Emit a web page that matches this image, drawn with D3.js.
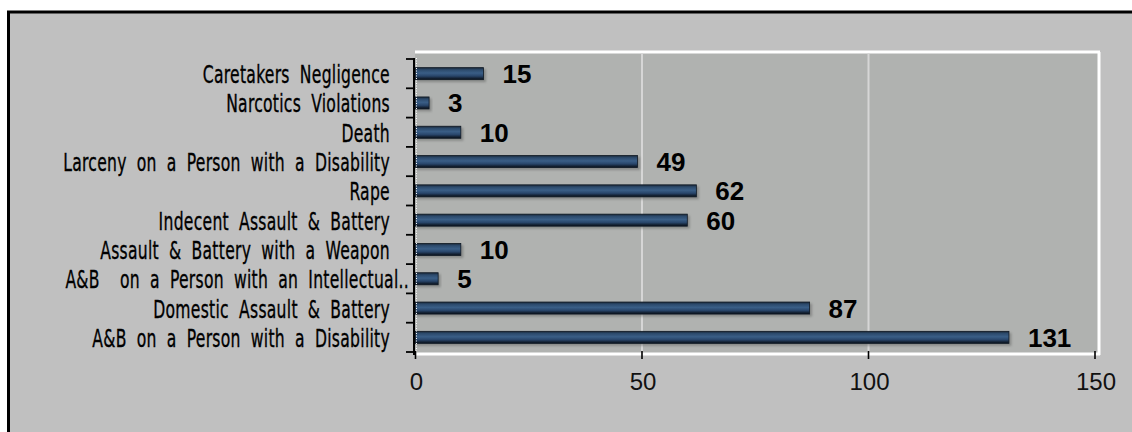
<!DOCTYPE html>
<html>
<head>
<meta charset="utf-8">
<script src="https://cdn.jsdelivr.net/npm/d3@7"></script>
<style>
  html, body { margin: 0; padding: 0; background: #ffffff; }
  svg { display: block; }
</style>
</head>
<body>
<svg id="chart" width="1132" height="432"></svg>
<script>
// ---- data ----
const categories = [
  "Caretakers Negligence",
  "Narcotics Violations",
  "Death",
  "Larceny on a Person with a Disability",
  "Rape",
  "Indecent Assault & Battery",
  "Assault & Battery with a Weapon",
  "A&B  on a Person with an Intellectual..",
  "Domestic Assault & Battery",
  "A&B on a Person with a Disability"
];
const values = [15, 3, 10, 49, 62, 60, 10, 5, 87, 131];
const xTicks = [0, 50, 100, 150];

// ---- layout ----
const W = 1132, H = 432;
const plot = { left: 415, right: 1099, top: 52, bottom: 355 };

const svg = d3.select("#chart");

// outer panel
svg.append("rect").attr("x", 9).attr("y", 12).attr("width", W).attr("height", H)
  .attr("fill", "#c0c0c0");
svg.append("line").attr("x1", 8.5).attr("x2", 8.5).attr("y1", 11).attr("y2", H)
  .attr("stroke", "#000").attr("stroke-width", 3);
svg.append("line").attr("x1", 7).attr("x2", W).attr("y1", 12).attr("y2", 12)
  .attr("stroke", "#000").attr("stroke-width", 3);

const x = d3.scaleLinear().domain([0, 150]).range([415.5, 1095]);
const y = d3.scaleBand().domain(categories).range([59, 352]).paddingInner(0.59).paddingOuter(0.295);
const yBounds = d3.scaleBand().domain(categories).range([59, 352]);

// plot area background
svg.append("rect")
  .attr("x", plot.left).attr("y", plot.top)
  .attr("width", plot.right - plot.left).attr("height", plot.bottom - plot.top)
  .attr("fill", "#b0b2b0");

// white frame (top, right, bottom)
const frame = svg.append("g").attr("fill", "none").attr("stroke", "#ffffff");
frame.append("line").attr("x1", plot.left).attr("x2", plot.right + 1).attr("y1", plot.top).attr("y2", plot.top).attr("stroke-width", 3);
frame.append("line").attr("x1", plot.right).attr("x2", plot.right).attr("y1", plot.top).attr("y2", plot.bottom).attr("stroke-width", 3);
frame.append("line").attr("x1", plot.left).attr("x2", plot.right + 1).attr("y1", plot.bottom - 1).attr("y2", plot.bottom - 1).attr("stroke-width", 3);
frame.append("line").attr("x1", plot.left).attr("x2", plot.right).attr("y1", plot.bottom - 2.5).attr("y2", plot.bottom - 2.5)
  .attr("stroke", "#d8d8d8").attr("stroke-width", 1).attr("stroke-dasharray", "1,2");
frame.append("line").attr("x1", plot.left).attr("x2", plot.right).attr("y1", plot.top + 1.5).attr("y2", plot.top + 1.5)
  .attr("stroke", "#d8d8d8").attr("stroke-width", 1).attr("stroke-dasharray", "1,2");

// gridlines
svg.append("g").selectAll("line").data(xTicks.filter(d => d > 0 && d < 150)).join("line")
  .attr("x1", d => x(d)).attr("x2", d => x(d))
  .attr("y1", plot.top + 1).attr("y2", plot.bottom - 2)
  .attr("stroke", "#d6d6d6").attr("stroke-width", 2);

// bar gradient
const defs = svg.append("defs");
const grad = defs.append("linearGradient").attr("id", "barGrad")
  .attr("x1", 0).attr("x2", 0).attr("y1", 0).attr("y2", 1);
[[0, "#1a2838"], [0.18, "#2c4a6c"], [0.45, "#3a5e86"], [0.7, "#28456a"], [0.88, "#142234"], [1, "#0a121c"]]
  .forEach(([o, c]) => grad.append("stop").attr("offset", o).attr("stop-color", c));
const blur = defs.append("filter").attr("id", "shadow").attr("x", "-5%").attr("y", "-50%").attr("width", "110%").attr("height", "200%");
blur.append("feGaussianBlur").attr("stdDeviation", 1.2);

// shadows
svg.append("g").selectAll("rect").data(values).join("rect")
  .attr("x", x(0) + 1)
  .attr("y", (d, i) => y(categories[i]) + 1.5)
  .attr("width", d => x(d) - x(0) + 1.5)
  .attr("height", y.bandwidth() + 1)
  .attr("fill", "#6e706e").attr("opacity", 0.6)
  .attr("filter", "url(#shadow)");

// bars
svg.append("g").selectAll("rect").data(values).join("rect")
  .attr("x", x(0))
  .attr("y", (d, i) => y(categories[i]))
  .attr("width", d => x(d) - x(0))
  .attr("height", y.bandwidth())
  .attr("fill", "url(#barGrad)")
  .attr("stroke", "#0e1824").attr("stroke-width", 0.8);

// value labels
svg.append("g").selectAll("text").data(values).join("text")
  .attr("x", d => x(d) + 19)
  .attr("y", (d, i) => y(categories[i]) + y.bandwidth() / 2 + 9.5)
  .attr("font-family", "Arial, 'Liberation Sans', sans-serif")
  .attr("font-weight", "bold")
  .attr("font-size", 26)
  .attr("fill", "#000")
  .text(d => d);

// left axis
const leftAxis = svg.append("g");
leftAxis.append("line").attr("x1", 414).attr("x2", 414).attr("y1", 58).attr("y2", plot.bottom)
  .attr("stroke", "#000").attr("stroke-width", 2);
leftAxis.append("line").attr("x1", 416.5).attr("x2", 416.5).attr("y1", 58).attr("y2", plot.bottom)
  .attr("stroke", "#ffffff").attr("stroke-width", 1).attr("stroke-dasharray", "1,1.5");
const bounds = categories.map(c => yBounds(c)).concat([yBounds.range()[1]]);
leftAxis.selectAll("line.tk").data(bounds).join("line").attr("class", "tk")
  .attr("x1", 406).attr("x2", 414)
  .attr("y1", d => d).attr("y2", d => d)
  .attr("stroke", "#000").attr("stroke-width", 1.8);

// category labels (condensed look)
const catG = svg.append("g");
const catTexts = catG.selectAll("text").data(categories).join("text")
  .attr("text-anchor", "end")
  .attr("font-family", "'Liberation Sans Narrow', 'DejaVu Sans Condensed', 'Liberation Sans', sans-serif")
  .attr("font-size", 25)
  .attr("letter-spacing", 0.4)
  .attr("word-spacing", 7)
  .attr("fill", "#000")
  .attr("stroke", "#000").attr("stroke-width", 0.35)
  .style("white-space", "pre")
  .attr("xml:space", "preserve")
  .text(d => d);
// fit the longest standard label to its reference width
const refNode = catTexts.nodes()[3];
const measured = refNode.getComputedTextLength();
const sx = 327 / measured;
catTexts.attr("transform", (d, i) => {
  const right = i === 7 ? 409 : 390;
  const cy = y(d) + y.bandwidth() / 2 + 9.5;
  return `translate(${right},${cy}) scale(${sx},1)`;
});

// bottom axis
const bottomAxis = svg.append("g");
bottomAxis.selectAll("line").data(xTicks).join("line")
  .attr("x1", d => x(d)).attr("x2", d => x(d))
  .attr("y1", 351).attr("y2", 359)
  .attr("stroke", "#000").attr("stroke-width", 1.6);
bottomAxis.selectAll("text").data(xTicks).join("text")
  .attr("x", d => x(d) + 1)
  .attr("y", 390)
  .attr("text-anchor", "middle")
  .attr("font-family", "Arial, 'Liberation Sans', sans-serif")
  .attr("font-size", 24)
  .attr("fill", "#111")
  .text(d => d);
</script>
</body>
</html>
